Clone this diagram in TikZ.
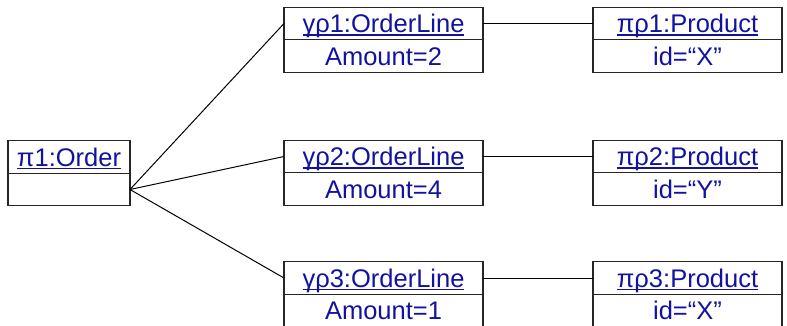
\documentclass[tikz,border=0pt]{standalone}
\usepackage{fontspec}
\setmainfont{Liberation Sans}
\definecolor{objtext}{RGB}{18,18,160}
% underlined object name: rule drawn a fixed distance under the baseline
\newcommand\objname[1]{\setbox0=\hbox{#1}\rlap{\copy0}\rule[-3.2pt]{\wd0}{1.6pt}}
\tikzset{
  compart/.style={draw=black!85, line width=1.2pt, inner sep=0pt, outer sep=0pt,
    minimum height=32.5pt, text height=18.2pt, text depth=0pt,
    text=objtext, font=\fontsize{25.5}{30}\selectfont},
  ordbox/.style={compart, minimum width=122pt},
  linebox/.style={compart, minimum width=199pt},
  prodbox/.style={compart, minimum width=189pt},
  link/.style={draw=black, line width=1pt},
}
\begin{document}
\begin{tikzpicture}[x=1pt, y=-1pt]
\useasboundingbox (0,0) rectangle (787,326);

% order object
\node[ordbox] (oh) at (69,157) {\objname{π1:Order}};
\node[ordbox, anchor=north] (ob) at (oh.south) {};

% order line objects
\node[linebox] (l1h) at (383.5,23.5) {\objname{γρ1:OrderLine}};
\node[linebox, anchor=north] (l1b) at (l1h.south) {Amount=2};
\node[linebox] (l2h) at (383.5,156.5) {\objname{γρ2:OrderLine}};
\node[linebox, anchor=north] (l2b) at (l2h.south) {Amount=4};
\node[linebox] (l3h) at (383.5,278) {\objname{γρ3:OrderLine}};
\node[linebox, anchor=north] (l3b) at (l3h.south) {Amount=1};

% product objects
\node[prodbox] (p1h) at (687.5,23.5) {\objname{πρ1:Product}};
\node[prodbox, anchor=north] (p1b) at (p1h.south) {id=“X”};
\node[prodbox] (p2h) at (687.5,156.5) {\objname{πρ2:Product}};
\node[prodbox, anchor=north] (p2b) at (p2h.south) {id=“Y”};
\node[prodbox] (p3h) at (687.5,278) {\objname{πρ3:Product}};
\node[prodbox, anchor=north] (p3b) at (p3h.south) {id=“X”};

% links
\draw[link] (ob.east) -- (l1h.west);
\draw[link] (ob.east) -- (l2h.west);
\draw[link] (ob.east) -- (l3h.west);
\draw[link] (l1h.east) -- (p1h.west);
\draw[link] (l2h.east) -- (p2h.west);
\draw[link] (l3h.east) -- (p3h.west);
\end{tikzpicture}
\end{document}
